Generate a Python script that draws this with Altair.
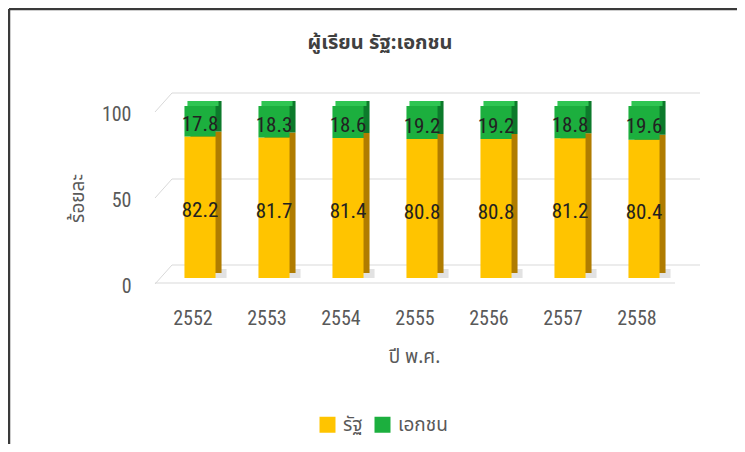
import altair as alt
import pandas as pd

years = ["2552", "2553", "2554", "2555", "2556", "2557", "2558"]
state = [82.2, 81.7, 81.4, 80.8, 80.8, 81.2, 80.4]
private = [17.8, 18.3, 18.6, 19.2, 19.2, 18.8, 19.6]
series_names = ["รัฐ", "เอกชน"]
y_ticks = [0, 50, 100]
title_text = "ผู้เรียน รัฐ:เอกชน"
x_title = "ปี พ.ศ."
y_title = "ร้อยละ"

rows = []
for i, yr in enumerate(years):
    s, p = state[i], private[i]
    rows.append(dict(year=yr, series=series_names[0], value=s, start=0.0, end=s, mid=s / 2, order=0))
    rows.append(dict(year=yr, series=series_names[1], value=p, start=s, end=s + p, mid=s + p / 2, order=1))
df = pd.DataFrame(rows)
df["label"] = df["value"].map(lambda v: f"{v:.1f}")
grid_df = pd.DataFrame({"v": y_ticks})

NUM_FONT = "Liberation Sans Narrow, Roboto Condensed, Liberation Sans, sans-serif"
THAI_FONT = "Noto Sans Thai, Noto Sans Thai UI, Noto Sans, sans-serif"

W, H = 518, 172
yscale = alt.Scale(domain=[0, 100], nice=False, zero=True)
xscale = alt.Scale(domain=years, paddingInner=0.58, paddingOuter=0.29)

x_axis = alt.Axis(title=x_title, labelAngle=0, ticks=False, domain=False, labelOffset=-7,
                  labelPadding=30, labelFont=NUM_FONT, labelFontSize=20, labelColor="#595959",
                  titleFont=THAI_FONT, titleFontSize=19, titleFontWeight="normal", titleColor="#595959",
                  titleX=251, titleY=78, titleAnchor="middle", titleAlign="center", titleBaseline="middle")
y_axis = alt.Axis(title=y_title, values=y_ticks, ticks=False, domain=False, grid=False,
                  labelOffset=8, labelPadding=32, labelFont=NUM_FONT, labelFontSize=20, labelColor="#595959",
                  titleFont=THAI_FONT, titleFontSize=19, titleFontWeight="normal", titleColor="#595959",
                  titleX=-86, titleY=92, titleAngle=-90, titleAlign="center", titleBaseline="middle")

X = alt.X("year:N", scale=xscale, axis=x_axis, sort=years)

grid_color = "#D9D9D9"
grid_back = alt.Chart(grid_df).mark_rule(color=grid_color, strokeWidth=1, yOffset=-13).encode(
    y=alt.Y("v:Q", scale=yscale, axis=y_axis), x=alt.value(9), x2=alt.value(537))
grid_side = alt.Chart(grid_df).mark_rule(color=grid_color, strokeWidth=1, yOffset=6, y2Offset=-13).encode(
    y=alt.Y("v:Q", scale=yscale, axis=y_axis), y2="v:Q", x=alt.value(-8), x2=alt.value(9))
floor_front = alt.Chart(grid_df[grid_df.v == 0]).mark_rule(color=grid_color, strokeWidth=1, yOffset=5).encode(
    y=alt.Y("v:Q", scale=yscale, axis=y_axis), x=alt.value(-8), x2=alt.value(512))

shadow = alt.Chart(df[df.order == 0]).mark_bar(xOffset=11, x2Offset=11, yOffset=-9, y2Offset=0,
                                               color="#8C8C8C", opacity=0.25).encode(
    x=X,
    y=alt.Y("start:Q", scale=yscale, axis=y_axis), y2="start:Q",
)
side = alt.Chart(df).mark_bar(xOffset=6, x2Offset=6, yOffset=-5, y2Offset=-5).encode(
    x=X,
    y=alt.Y("start:Q", scale=yscale, axis=y_axis), y2="end:Q",
    color=alt.Color("series:N", scale=alt.Scale(domain=series_names, range=["#B07C00", "#0C7A2B"]), legend=None),
)
top = alt.Chart(df[df.order == 1]).mark_bar(xOffset=3, x2Offset=3, yOffset=-5, y2Offset=0, color="#2FC552").encode(
    x=X,
    y=alt.Y("end:Q", scale=yscale, axis=y_axis), y2="end:Q",
)
front = alt.Chart(df).mark_bar().encode(
    x=X,
    y=alt.Y("start:Q", scale=yscale, axis=y_axis), y2="end:Q",
    color=alt.Color("series:N", scale=alt.Scale(domain=series_names, range=["#FFC400", "#1CAF3E"]),
                    legend=alt.Legend(title=None, orient="none", legendX=155, legendY=309, direction="horizontal",
                                      symbolType="square", symbolSize=256, symbolStrokeWidth=0,
                                      labelFont=THAI_FONT, labelFontSize=19, labelColor="#595959",
                                      labelOffset=6, columnPadding=10, padding=0)),
    order=alt.Order("order:Q"),
)
labels = alt.Chart(df).mark_text(font=NUM_FONT, fontSize=21, color="#222222", dy=4, baseline="middle").encode(
    x=X, y=alt.Y("mid:Q", scale=yscale, axis=y_axis), text="label:N")

title = alt.Chart(pd.DataFrame({"t": [title_text]})).mark_text(
    font=THAI_FONT, fontSize=20, fontWeight="bold", color="#404040", baseline="middle", align="center"
).encode(text="t:N", x=alt.value(217), y=alt.value(-63))

border_df = pd.DataFrame({"k": [0]})
border_top = alt.Chart(border_df).mark_rule(color="#3A3A3A", strokeWidth=2.5).encode(
    x=alt.value(-154), x2=alt.value(600), y=alt.value(-97))
border_left = alt.Chart(border_df).mark_rule(color="#3A3A3A", strokeWidth=2.5).encode(
    x=alt.value(-154), y=alt.value(-97), y2=alt.value(360))

chart = alt.layer(
    grid_back, grid_side, floor_front, shadow, side, top, front, labels, title, border_top, border_left
).resolve_scale(color="independent").properties(
    width=W, height=H,
    autosize=alt.AutoSizeParams(type="none"),
    padding={"left": 155, "top": 98, "right": 56, "bottom": 166},
).configure_view(stroke=None)

chart.save("out.html", embed_options={"renderer": "svg", "actions": False})
